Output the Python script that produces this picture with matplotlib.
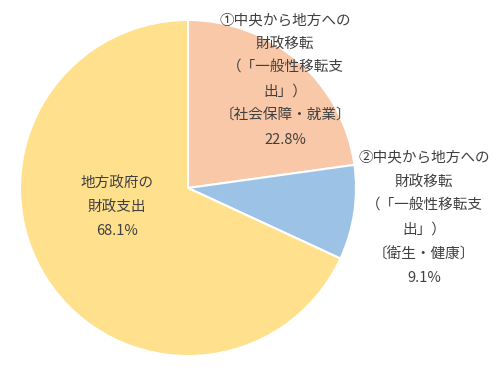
import matplotlib
matplotlib.use("Agg")
import matplotlib.pyplot as plt

plt.rcParams["font.family"] = ["Noto Sans CJK JP", "DejaVu Sans"]

# ----------------------------------------------------------------------
shares = [22.8, 9.1, 68.1]
colors = ["#F8C8A8", "#9CC2E5", "#FFE08C"]
labels = [
    "①中央から地方への\n財政移転\n（「一般性移転支\n出」）\n〔社会保障・就業〕\n22.8%",
    "②中央から地方への\n財政移転\n（「一般性移転支\n出」）\n〔衛生・健康〕\n9.1%",
    "地方政府の\n財政支出\n68.1%",
]
# label anchor (pixel centre of text block, top-left origin)
label_pos = [(285, 80), (424, 218), (117, 207)]

# ----------------------------------------------------------------------
W, H = 500, 371
fig = plt.figure(figsize=(W / 100, H / 100), dpi=100)

cx, cy, r = 188, 188, 168
ax = fig.add_axes([(cx - r) / W, (H - cy - r) / H, 2 * r / W, 2 * r / H])
ax.pie(
    shares,
    colors=colors,
    startangle=90,
    counterclock=False,
    radius=1.0,
    wedgeprops=dict(edgecolor="white", linewidth=1.5),
)
ax.set_xlim(-1, 1)
ax.set_ylim(-1, 1)
ax.set_aspect("equal")
ax.axis("off")

for text, (px, py) in zip(labels, label_pos):
    fig.text(px / W, 1 - py / H, text, ha="center", va="center",
             fontsize=10.5, color="#404040", linespacing=1.9)

fig.savefig("out.png", dpi=100)
